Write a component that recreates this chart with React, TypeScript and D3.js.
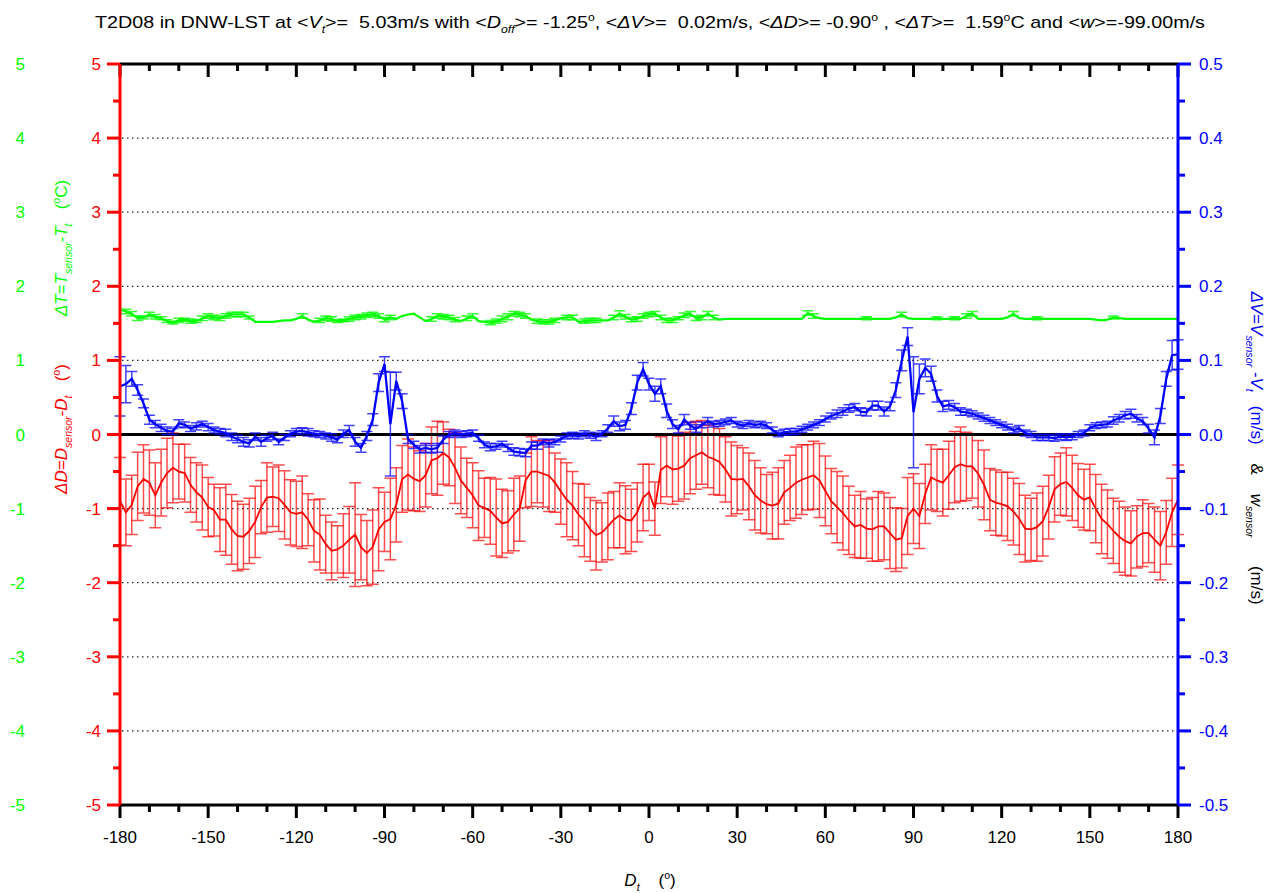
import React from "react";
import * as d3 from "d3";

// wind direction of the tunnel, every 2 degrees
const angles = d3.range(-180, 181, 2);

// ΔD = D_sensor - D_t (deg), left red axis
const dirDiff = [
  -0.90, -1.05, -0.95, -0.70, -0.60, -0.65, -0.82, -0.65, -0.52, -0.45,
  -0.50, -0.52, -0.68, -0.78, -0.85, -0.98, -1.02, -1.15, -1.15, -1.28,
  -1.37, -1.38, -1.30, -1.18, -0.98, -0.85, -0.84, -0.86, -0.95, -1.05,
  -1.07, -1.05, -1.15, -1.30, -1.35, -1.48, -1.57, -1.55, -1.50, -1.42,
  -1.35, -1.52, -1.60, -1.52, -1.28, -1.18, -1.14, -0.95, -0.60, -0.54,
  -0.60, -0.63, -0.55, -0.35, -0.32, -0.25, -0.31, -0.45, -0.62, -0.72,
  -0.82, -0.96, -0.99, -1.03, -1.12, -1.20, -1.18, -1.08, -1.00, -0.62,
  -0.50, -0.50, -0.53, -0.56, -0.65, -0.77, -0.88, -0.96, -1.08, -1.16,
  -1.28, -1.36, -1.32, -1.24, -1.15, -1.09, -1.15, -1.16, -1.05, -0.85,
  -0.78, -1.00, -0.48, -0.42, -0.47, -0.46, -0.42, -0.32, -0.28, -0.24,
  -0.30, -0.33, -0.37, -0.47, -0.60, -0.61, -0.60, -0.70, -0.82, -0.89,
  -0.94, -0.96, -0.93, -0.78, -0.72, -0.65, -0.61, -0.58, -0.55, -0.62,
  -0.76, -0.90, -0.98, -1.06, -1.16, -1.24, -1.22, -1.27, -1.28, -1.24,
  -1.24, -1.33, -1.42, -1.40, -1.10, -1.00, -1.10, -0.80, -0.58, -0.62,
  -0.65, -0.55, -0.44, -0.40, -0.43, -0.43, -0.53, -0.68, -0.88, -0.92,
  -0.94, -0.97, -1.04, -1.14, -1.27, -1.28, -1.25, -1.17, -0.98, -0.74,
  -0.67, -0.64, -0.72, -0.82, -0.88, -0.85, -1.00, -1.14, -1.21, -1.30,
  -1.38, -1.44, -1.47, -1.38, -1.33, -1.33, -1.42, -1.50, -1.32, -1.05,
  -0.88,
];
const dirErr = [
  0.59, 0.45, 0.40, 0.46, 0.46, 0.44, 0.44, 0.45, 0.47, 0.47,
  0.37, 0.39, 0.37, 0.40, 0.44, 0.40, 0.35, 0.43, 0.48, 0.47,
  0.47, 0.44, 0.44, 0.48, 0.36, 0.47, 0.40, 0.45, 0.46, 0.44,
  0.44, 0.49, 0.35, 0.42, 0.48, 0.39, 0.39, 0.32, 0.43, 0.45,
  0.70, 0.44, 0.44, 0.50, 0.56, 0.40, 0.55, 0.50, 0.45, 0.48,
  0.43, 0.41, 0.43, 0.45, 0.50, 0.42, 0.38, 0.48, 0.45, 0.40,
  0.44, 0.47, 0.40, 0.45, 0.52, 0.46, 0.42, 0.49, 0.44, 0.37,
  0.47, 0.42, 0.45, 0.48, 0.40, 0.44, 0.50, 0.46, 0.42, 0.49,
  0.43, 0.47, 0.40, 0.45, 0.38, 0.44, 0.46, 0.42, 0.40, 0.45,
  0.38, 0.36, 0.45, 0.42, 0.47, 0.44, 0.45, 0.48, 0.46, 0.43,
  0.42, 0.48, 0.45, 0.44, 0.50, 0.46, 0.42, 0.45, 0.47, 0.44,
  0.40, 0.45, 0.48, 0.43, 0.44, 0.48, 0.47, 0.44, 0.46, 0.50,
  0.47, 0.44, 0.48, 0.50, 0.46, 0.42, 0.45, 0.40, 0.43, 0.47,
  0.45, 0.48, 0.43, 0.40, 0.52, 0.47, 0.44, 0.40, 0.44, 0.42,
  0.45, 0.46, 0.48, 0.50, 0.46, 0.43, 0.45, 0.47, 0.42, 0.44,
  0.43, 0.46, 0.45, 0.48, 0.45, 0.42, 0.46, 0.47, 0.43, 0.44,
  0.42, 0.46, 0.44, 0.43, 0.41, 0.45, 0.46, 0.47, 0.46, 0.44,
  0.48, 0.46, 0.44, 0.42, 0.45, 0.40, 0.44, 0.46, 0.43, 0.46,
  0.47,
];

// ΔV = V_sensor - V_t (m/s), right blue axis
const speedDiff = [
  0.065, 0.068, 0.075, 0.060, 0.042, 0.020, 0.014, 0.009, 0.005, 0.004,
  0.015, 0.013, 0.008, 0.011, 0.014, 0.010, 0.006, 0.004, 0.002, -0.003,
  -0.006, -0.010, -0.012, -0.003, -0.010, -0.005, -0.002, -0.010, -0.004, 0.001,
  0.004, 0.005, 0.003, 0.001, 0.000, -0.002, -0.004, -0.007, 0.001, 0.006,
  -0.010, -0.018, -0.002, 0.020, 0.070, 0.095, 0.014, 0.072, 0.045, -0.006,
  -0.014, -0.020, -0.018, -0.020, -0.018, -0.007, 0.000, 0.002, 0.000, 0.001,
  0.002, -0.005, -0.014, -0.017, -0.016, -0.013, -0.018, -0.023, -0.024, -0.025,
  -0.015, -0.015, -0.010, -0.012, -0.010, -0.006, -0.002, -0.001, -0.002, 0.001,
  -0.001, -0.003, 0.001, 0.008, 0.018, 0.011, 0.013, 0.035, 0.070, 0.088,
  0.068, 0.055, 0.065, 0.032, 0.014, 0.007, 0.020, 0.012, 0.008, 0.013,
  0.018, 0.014, 0.015, 0.017, 0.019, 0.014, 0.012, 0.015, 0.013, 0.014,
  0.012, 0.006, 0.001, 0.003, 0.004, 0.004, 0.007, 0.010, 0.013, 0.016,
  0.021, 0.025, 0.028, 0.031, 0.035, 0.037, 0.031, 0.030, 0.039, 0.039,
  0.031, 0.038, 0.060, 0.100, 0.132, 0.030, 0.075, 0.090, 0.082, 0.052,
  0.038, 0.040, 0.037, 0.031, 0.030, 0.028, 0.025, 0.022, 0.019, 0.016,
  0.013, 0.010, 0.006, 0.008, 0.002, 0.000, -0.004, -0.004, -0.004, -0.005,
  -0.003, -0.004, -0.003, 0.000, 0.002, 0.009, 0.012, 0.013, 0.014, 0.019,
  0.022, 0.026, 0.028, 0.022, 0.018, 0.008, -0.004, 0.025, 0.075, 0.107,
  0.108,
];
const speedErr = [
  0.040, 0.025, 0.010, 0.007, 0.006, 0.006, 0.005, 0.005, 0.005, 0.004,
  0.005, 0.004, 0.004, 0.005, 0.004, 0.005, 0.004, 0.004, 0.005, 0.005,
  0.005, 0.006, 0.005, 0.005, 0.006, 0.004, 0.005, 0.004, 0.004, 0.004,
  0.004, 0.004, 0.005, 0.004, 0.004, 0.004, 0.005, 0.004, 0.005, 0.006,
  0.006, 0.006, 0.006, 0.008, 0.012, 0.010, 0.070, 0.012, 0.010, 0.006,
  0.005, 0.005, 0.006, 0.005, 0.006, 0.005, 0.004, 0.004, 0.004, 0.004,
  0.004, 0.004, 0.004, 0.005, 0.004, 0.004, 0.005, 0.005, 0.005, 0.005,
  0.005, 0.005, 0.004, 0.005, 0.004, 0.004, 0.004, 0.004, 0.004, 0.004,
  0.004, 0.005, 0.004, 0.005, 0.007, 0.006, 0.006, 0.008, 0.010, 0.009,
  0.008, 0.010, 0.010, 0.009, 0.006, 0.005, 0.007, 0.005, 0.005, 0.004,
  0.005, 0.004, 0.004, 0.004, 0.004, 0.004, 0.004, 0.004, 0.004, 0.004,
  0.004, 0.004, 0.004, 0.004, 0.004, 0.004, 0.004, 0.004, 0.004, 0.004,
  0.004, 0.004, 0.005, 0.005, 0.005, 0.005, 0.005, 0.005, 0.006, 0.006,
  0.006, 0.006, 0.010, 0.014, 0.012, 0.075, 0.020, 0.012, 0.010, 0.008,
  0.007, 0.006, 0.005, 0.005, 0.004, 0.004, 0.004, 0.004, 0.004, 0.004,
  0.004, 0.004, 0.004, 0.004, 0.004, 0.004, 0.004, 0.004, 0.004, 0.004,
  0.004, 0.004, 0.004, 0.004, 0.004, 0.004, 0.004, 0.004, 0.004, 0.005,
  0.005, 0.005, 0.006, 0.005, 0.005, 0.006, 0.010, 0.010, 0.010, 0.020,
  0.020,
];

// ΔT = T_sensor - T_t (°C), green axis (same scale as red)
const tempDiff = [
  1.69, 1.66, 1.63, 1.57, 1.58, 1.62, 1.59, 1.57, 1.53, 1.51,
  1.54, 1.55, 1.53, 1.53, 1.57, 1.60, 1.58, 1.57, 1.60, 1.62,
  1.62, 1.62, 1.58, 1.52, 1.52, 1.52, 1.52, 1.53, 1.54, 1.54,
  1.56, 1.60, 1.55, 1.52, 1.54, 1.57, 1.56, 1.53, 1.54, 1.56,
  1.58, 1.59, 1.61, 1.62, 1.60, 1.55, 1.58, 1.56, 1.60, 1.62,
  1.63, 1.58, 1.53, 1.56, 1.60, 1.59, 1.58, 1.55, 1.53, 1.57,
  1.60, 1.53, 1.52, 1.51, 1.53, 1.56, 1.59, 1.63, 1.62, 1.60,
  1.55, 1.53, 1.52, 1.52, 1.54, 1.57, 1.58, 1.58, 1.52, 1.53,
  1.54, 1.54, 1.54, 1.54, 1.58, 1.63, 1.59, 1.55, 1.56, 1.60,
  1.62, 1.63, 1.58, 1.54, 1.54, 1.57, 1.61, 1.63, 1.57, 1.58,
  1.63, 1.58, 1.55, 1.56, 1.56, 1.56, 1.56, 1.56, 1.56, 1.56,
  1.56, 1.56, 1.56, 1.56, 1.56, 1.56, 1.56, 1.64, 1.60, 1.57,
  1.56, 1.56, 1.56, 1.56, 1.56, 1.56, 1.56, 1.57, 1.56, 1.56,
  1.56, 1.56, 1.58, 1.62, 1.57, 1.56, 1.56, 1.56, 1.56, 1.57,
  1.56, 1.56, 1.57, 1.56, 1.60, 1.63, 1.56, 1.56, 1.56, 1.56,
  1.56, 1.58, 1.63, 1.57, 1.56, 1.56, 1.57, 1.56, 1.56, 1.56,
  1.56, 1.56, 1.56, 1.56, 1.56, 1.56, 1.55, 1.54, 1.55, 1.58,
  1.57, 1.56, 1.56, 1.56, 1.56, 1.56, 1.56, 1.56, 1.56, 1.56,
  1.56,
];
const tempErr = [
  0.00, 0.03, 0.03, 0.03, 0.02, 0.03, 0.03, 0.02, 0.02, 0.02,
  0.03, 0.02, 0.03, 0.02, 0.03, 0.03, 0.03, 0.03, 0.03, 0.03,
  0.03, 0.03, 0.02, 0.00, 0.00, 0.00, 0.00, 0.00, 0.00, 0.00,
  0.00, 0.03, 0.00, 0.00, 0.03, 0.03, 0.03, 0.02, 0.02, 0.03,
  0.03, 0.03, 0.03, 0.03, 0.03, 0.03, 0.03, 0.00, 0.00, 0.00,
  0.00, 0.00, 0.00, 0.03, 0.03, 0.03, 0.03, 0.03, 0.00, 0.03,
  0.03, 0.00, 0.00, 0.03, 0.03, 0.04, 0.04, 0.03, 0.03, 0.03,
  0.00, 0.03, 0.03, 0.03, 0.03, 0.00, 0.03, 0.03, 0.00, 0.03,
  0.03, 0.03, 0.00, 0.00, 0.03, 0.04, 0.03, 0.03, 0.03, 0.03,
  0.03, 0.03, 0.03, 0.03, 0.03, 0.02, 0.03, 0.03, 0.03, 0.03,
  0.03, 0.03, 0.00, 0.00, 0.00, 0.00, 0.00, 0.00, 0.00, 0.00,
  0.00, 0.00, 0.00, 0.00, 0.00, 0.00, 0.00, 0.03, 0.03, 0.00,
  0.00, 0.00, 0.00, 0.00, 0.00, 0.00, 0.00, 0.02, 0.00, 0.00,
  0.00, 0.00, 0.00, 0.03, 0.00, 0.00, 0.00, 0.00, 0.00, 0.02,
  0.00, 0.00, 0.02, 0.00, 0.03, 0.03, 0.00, 0.00, 0.00, 0.00,
  0.00, 0.00, 0.03, 0.00, 0.00, 0.00, 0.02, 0.00, 0.00, 0.00,
  0.00, 0.00, 0.00, 0.00, 0.00, 0.00, 0.00, 0.00, 0.00, 0.02,
  0.00, 0.00, 0.00, 0.00, 0.00, 0.00, 0.00, 0.00, 0.00, 0.00,
  0.00,
];

const xMajor = d3.range(-180, 181, 30);
const xMinor = d3.range(-180, 181, 10);
const leftMajor = d3.range(-5, 6, 1);
const leftMinor = d3.range(-5, 5.01, 0.5);
const rightMajor = d3.range(-5, 6, 1).map(v => v / 10);
const rightMinor = d3.range(-10, 11, 1).map(v => v / 20);

const FONT = "'Liberation Sans', Arial, Helvetica, sans-serif";
const RED = "#ff0000";
const BLUE = "#0000ff";
const GREEN = "#00ff00";

type Seg = { t: string; i?: boolean; s?: "sub" | "sup"; c?: string };

function Rich({ segs, size }: { segs: Seg[]; size: number }) {
  let cur = 0;
  return (
    <>
      {segs.map((s, k) => {
        const target = s.s === "sub" ? size * 0.3 : s.s === "sup" ? -size * 0.42 : 0;
        const dy = target - cur;
        cur = target;
        return (
          <tspan key={k} dy={dy} fontStyle={s.i ? "italic" : "normal"}
            fontSize={s.s ? size * 0.62 : size} fill={s.c}>
            {s.t}
          </tspan>
        );
      })}
    </>
  );
}

const xScale = d3.scaleLinear().domain([-180, 180]).range([120, 1178]);
const yLeft = d3.scaleLinear().domain([-5, 5]).range([805, 64]);
const yRight = d3.scaleLinear().domain([-0.5, 0.5]).range([805, 64]);

function ErrorBars({ vals, errs, y, color, cap, opacity, width }: any) {
  return (
    <g stroke={color} strokeWidth={width} strokeOpacity={opacity} fill="none">
      {vals.map((v: number, i: number) => {
        const e = errs[i];
        if (!e) return null;
        const cx = xScale(angles[i]);
        const y1 = y(v + e), y2 = y(v - e);
        return (
          <path key={i}
            d={`M${cx},${y1}V${y2}M${cx - cap / 2},${y1}H${cx + cap / 2}M${cx - cap / 2},${y2}H${cx + cap / 2}`} />
        );
      })}
    </g>
  );
}

const pre = { whiteSpace: "pre" } as const;

export default function App() {
  const x = xScale;
  const [x0, x1] = x.range();
  const [yb, yt] = yLeft.range();

  const lineL = d3.line<number>().x((_, i) => x(angles[i])).y(d => yLeft(d));
  const lineR = d3.line<number>().x((_, i) => x(angles[i])).y(d => yRight(d));

  const fmtR = (v: number) => (Math.abs(v) < 1e-9 ? "0.0" : v.toFixed(1));

  const title: Seg[] = [
    { t: "T2D08 in DNW-LST at <" }, { t: "V", i: true }, { t: "t", i: true, s: "sub" },
    { t: ">=  5.03m/s with <" }, { t: "D", i: true }, { t: "off", i: true, s: "sub" },
    { t: ">= -1.25" }, { t: "o", s: "sup" }, { t: ", <" }, { t: "ΔV", i: true },
    { t: ">=  0.02m/s, <" }, { t: "ΔD", i: true }, { t: ">= -0.90" }, { t: "o", s: "sup" },
    { t: " , <" }, { t: "ΔT", i: true }, { t: ">=  1.59" }, { t: "o", s: "sup" },
    { t: "C and <" }, { t: "w", i: true }, { t: ">=-99.00m/s" },
  ];

  return (
    <div style={{ position: "absolute", left: 0, top: 0 }}>
      <svg width={1278} height={893} style={{ display: "block", background: "#fff" }}
        fontFamily={FONT}>
        {/* title */}
        <text x={650} y={28} textAnchor="middle" fontSize={17} fill="#000" xmlSpace="preserve" style={pre}
          textLength={1110} lengthAdjust="spacingAndGlyphs">
          <Rich segs={title} size={17} />
        </text>

        {/* dotted grid */}
        <g stroke="#222" strokeWidth={1.2} strokeDasharray="1.5 3.5">
          {leftMajor.filter(v => v !== 0 && Math.abs(v) !== 5).map(v => (
            <line key={v} x1={x0 + 2} x2={x1 - 2} y1={yLeft(v)} y2={yLeft(v)} />
          ))}
        </g>

        {/* ΔD */}
        <ErrorBars vals={dirDiff} errs={dirErr} y={yLeft} color={RED} cap={12} opacity={0.7} width={1.5} />
        <path d={lineL(dirDiff) || ""} fill="none" stroke={RED} strokeWidth={1.8} />

        {/* zero line */}
        <line x1={x0} x2={x1} y1={yLeft(0)} y2={yLeft(0)} stroke="#000" strokeWidth={3} />

        {/* ΔV */}
        <ErrorBars vals={speedDiff} errs={speedErr} y={yRight} color={BLUE} cap={11} opacity={0.75} width={1.5} />
        <path d={lineR(speedDiff) || ""} fill="none" stroke={BLUE} strokeWidth={2.3} />

        {/* ΔT */}
        <ErrorBars vals={tempDiff} errs={tempErr} y={yLeft} color={GREEN} cap={11} opacity={0.8} width={1.5} />
        <path d={lineL(tempDiff) || ""} fill="none" stroke={GREEN} strokeWidth={2.2} />

        {/* top axis */}
        <g stroke="#000" strokeWidth={3}>
          <line x1={x0} x2={x1} y1={yt} y2={yt} />
          {xMinor.map(v => (
            <line key={v} x1={x(v)} x2={x(v)} y1={yt} y2={yt + (v % 30 === 0 ? 13 : 7)} />
          ))}
        </g>

        {/* bottom axis */}
        <g stroke="#000" strokeWidth={3}>
          <line x1={x0} x2={x1} y1={yb} y2={yb} />
          {xMinor.map(v => (
            <line key={v} x1={x(v)} x2={x(v)} y1={yb} y2={yb + (v % 30 === 0 ? 13 : 7)} />
          ))}
        </g>
        <g fontSize={17} textAnchor="middle" fill="#000">
          {xMajor.map(v => (
            <text key={v} x={x(v)} y={843}>{String(v)}</text>
          ))}
        </g>
        <text x={650} y={886} textAnchor="middle" fontSize={17} fill="#000" xmlSpace="preserve" style={pre}>
          <Rich size={17} segs={[{ t: "D", i: true }, { t: "t", i: true, s: "sub" }, { t: "    (" }, { t: "o", s: "sup" }, { t: ")" }]} />
        </text>

        {/* red left axis */}
        <g stroke={RED} strokeWidth={3}>
          <line x1={x0} x2={x0} y1={yt} y2={yb} />
          {leftMinor.map(v => (
            <line key={v} x1={x0} x2={x0 - (Number.isInteger(v) ? 13 : 7)} y1={yLeft(v)} y2={yLeft(v)} />
          ))}
        </g>
        <g fontSize={17} textAnchor="end" fill={RED}>
          {leftMajor.map(v => (
            <text key={v} x={101} y={yLeft(v) + 6}>{String(v)}</text>
          ))}
        </g>
        {/* green axis labels */}
        <g fontSize={17} textAnchor="end" fill={GREEN}>
          {leftMajor.map(v => (
            <text key={v} x={25} y={yLeft(v) + 6}>{String(v)}</text>
          ))}
        </g>

        {/* blue right axis */}
        <g stroke={BLUE} strokeWidth={3}>
          <line x1={x1} x2={x1} y1={yt} y2={yb} />
          {rightMinor.map((v, k) => (
            <line key={k} x1={x1} x2={x1 + (k % 2 === 0 ? 13 : 7)} y1={yRight(v)} y2={yRight(v)} />
          ))}
        </g>
        <g fontSize={17} textAnchor="start" fill={BLUE}>
          {rightMajor.map((v, k) => (
            <text key={k} x={1199} y={yRight(v) + 6}>{fmtR(v)}</text>
          ))}
        </g>

        {/* axis titles */}
        <text transform="translate(67,248) rotate(-90)" textAnchor="middle" fontSize={17} fill={GREEN}
          xmlSpace="preserve" style={pre}>
          <Rich size={17} segs={[
            { t: "ΔT=T", i: true }, { t: "sensor", i: true, s: "sub" }, { t: "-T", i: true },
            { t: "t", i: true, s: "sub" }, { t: "   (" }, { t: "o", s: "sup" }, { t: "C)" },
          ]} />
        </text>
        <text transform="translate(67,429) rotate(-90)" textAnchor="middle" fontSize={17} fill={RED}
          xmlSpace="preserve" style={pre}>
          <Rich size={17} segs={[
            { t: "ΔD=D", i: true }, { t: "sensor", i: true, s: "sub" }, { t: "-D", i: true },
            { t: "t", i: true, s: "sub" }, { t: "   (" }, { t: "o", s: "sup" }, { t: ")" },
          ]} />
        </text>
        <text transform="translate(1251,448) rotate(90)" textAnchor="middle" fontSize={17} fill="#000"
          xmlSpace="preserve" style={pre}>
          <Rich size={17} segs={[
            { t: "ΔV=V", i: true, c: BLUE }, { t: "sensor", i: true, s: "sub", c: BLUE },
            { t: " -V", i: true, c: BLUE }, { t: "t", i: true, s: "sub", c: BLUE },
            { t: "   (m/s)", c: BLUE }, { t: "    &    " }, { t: "w", i: true },
            { t: "sensor", i: true, s: "sub" }, { t: "      (m/s)" },
          ]} />
        </text>
      </svg>
    </div>
  );
}
